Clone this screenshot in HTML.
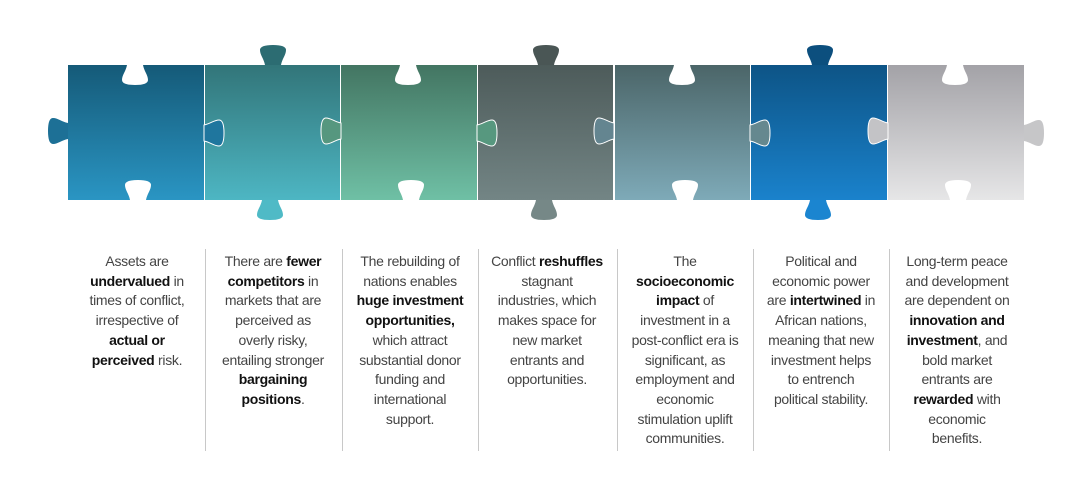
<!DOCTYPE html>
<html><head><meta charset="utf-8"><style>
body{margin:0;width:1083px;height:483px;background:#fff;position:relative;overflow:hidden;font-family:"Liberation Sans",sans-serif;}
svg{position:absolute;left:0;top:0}
.c{position:absolute;top:252px;width:134px;text-align:center;font-size:14px;line-height:19.7px;color:#444;letter-spacing:-0.3px;white-space:nowrap}
.c b{color:#111}
.d{position:absolute;top:249px;height:202px;width:1px;background:#c8c8c8}
</style></head><body>
<svg width="1083" height="483">
<defs>
<linearGradient id="g1" gradientUnits="userSpaceOnUse" x1="0" y1="65" x2="0" y2="200"><stop offset="0" stop-color="#155a78"/><stop offset="1" stop-color="#2a95c3"/></linearGradient>
<linearGradient id="g2" gradientUnits="userSpaceOnUse" x1="0" y1="65" x2="0" y2="200"><stop offset="0" stop-color="#327579"/><stop offset="1" stop-color="#4db6c3"/></linearGradient>
<linearGradient id="g3" gradientUnits="userSpaceOnUse" x1="0" y1="65" x2="0" y2="200"><stop offset="0" stop-color="#437562"/><stop offset="1" stop-color="#6fc0a5"/></linearGradient>
<linearGradient id="g4" gradientUnits="userSpaceOnUse" x1="0" y1="65" x2="0" y2="200"><stop offset="0" stop-color="#4d5b5a"/><stop offset="1" stop-color="#738585"/></linearGradient>
<linearGradient id="g5" gradientUnits="userSpaceOnUse" x1="0" y1="65" x2="0" y2="200"><stop offset="0" stop-color="#4b6568"/><stop offset="1" stop-color="#7eaab8"/></linearGradient>
<linearGradient id="g6" gradientUnits="userSpaceOnUse" x1="0" y1="65" x2="0" y2="200"><stop offset="0" stop-color="#0d5486"/><stop offset="1" stop-color="#1a82cc"/></linearGradient>
<linearGradient id="g7" gradientUnits="userSpaceOnUse" x1="0" y1="65" x2="0" y2="200"><stop offset="0" stop-color="#a3a2a7"/><stop offset="1" stop-color="#e6e6e7"/></linearGradient>
<path id="tab" d="M-8 0 C-9 -6 -13 -10 -13 -15 Q-13 -20 0 -20 Q13 -20 13 -15 C13 -10 9 -6 8 0 Z"/>
</defs>
<rect x="68" y="65" width="136" height="135" fill="url(#g1)"/>
<rect x="205" y="65" width="135" height="135" fill="url(#g2)"/>
<rect x="341" y="65" width="136" height="135" fill="url(#g3)"/>
<rect x="478" y="65" width="135" height="135" fill="url(#g4)"/>
<rect x="615" y="65" width="135" height="135" fill="url(#g5)"/>
<rect x="751" y="65" width="136" height="135" fill="url(#g6)"/>
<rect x="888" y="65" width="136" height="135" fill="url(#g7)"/>
<use href="#tab" transform="translate(273,65)" fill="#2c6c72"/>
<use href="#tab" transform="translate(270,200) rotate(180)" fill="#4fbac6"/>
<use href="#tab" transform="translate(546,65)" fill="#4a5655"/>
<use href="#tab" transform="translate(544,200) rotate(180)" fill="#768887"/>
<use href="#tab" transform="translate(820,65)" fill="#0c4f7e"/>
<use href="#tab" transform="translate(818,200) rotate(180)" fill="#1b85d0"/>
<g fill="#fff">
<use href="#tab" transform="translate(135,65) rotate(180)"/>
<use href="#tab" transform="translate(138,200)"/>
<use href="#tab" transform="translate(408,65) rotate(180)"/>
<use href="#tab" transform="translate(411,200)"/>
<use href="#tab" transform="translate(682,65) rotate(180)"/>
<use href="#tab" transform="translate(685,200)"/>
<use href="#tab" transform="translate(955,65) rotate(180)"/>
<use href="#tab" transform="translate(958,200)"/>
</g>
<use href="#tab" transform="translate(68,131) rotate(-90)" fill="#1d7096"/>
<use href="#tab" transform="translate(204,133) rotate(90)" fill="#1f769e" stroke="#fff" stroke-width="1"/>
<use href="#tab" transform="translate(341,131) rotate(-90)" fill="#56977f" stroke="#fff" stroke-width="1"/>
<use href="#tab" transform="translate(477,133) rotate(90)" fill="#57987f" stroke="#fff" stroke-width="1"/>
<use href="#tab" transform="translate(614,131) rotate(-90)" fill="#648590" stroke="#fff" stroke-width="1"/>
<use href="#tab" transform="translate(750,133) rotate(90)" fill="#65888f" stroke="#fff" stroke-width="1"/>
<use href="#tab" transform="translate(888,131) rotate(-90)" fill="#c3c3c6" stroke="#fff" stroke-width="1"/>
<use href="#tab" transform="translate(1024,133) rotate(90)" fill="#c6c6c8"/>
</svg>
<div class="d" style="left:205px"></div>
<div class="d" style="left:342px"></div>
<div class="d" style="left:478px"></div>
<div class="d" style="left:617px"></div>
<div class="d" style="left:753px"></div>
<div class="d" style="left:889px"></div>
<div class="c" style="left:70px">Assets are<br><b>undervalued</b> in<br>times of conflict,<br>irrespective of<br><b>actual or</b><br><b>perceived</b> risk.</div>
<div class="c" style="left:206px">There are <b>fewer</b><br><b>competitors</b> in<br>markets that are<br>perceived as<br>overly risky,<br>entailing stronger<br><b>bargaining</b><br><b>positions</b>.</div>
<div class="c" style="left:343px">The rebuilding of<br>nations enables<br><b>huge investment</b><br><b>opportunities,</b><br>which attract<br>substantial donor<br>funding and<br>international<br>support.</div>
<div class="c" style="left:480px">Conflict <b>reshuffles</b><br>stagnant<br>industries, which<br>makes space for<br>new market<br>entrants and<br>opportunities.</div>
<div class="c" style="left:618px">The<br><b>socioeconomic</b><br><b>impact</b> of<br>investment in a<br>post-conflict era is<br>significant, as<br>employment and<br>economic<br>stimulation uplift<br>communities.</div>
<div class="c" style="left:754px">Political and<br>economic power<br>are <b>intertwined</b> in<br>African nations,<br>meaning that new<br>investment helps<br>to entrench<br>political stability.</div>
<div class="c" style="left:890px">Long-term peace<br>and development<br>are dependent on<br><b>innovation and</b><br><b>investment</b>, and<br>bold market<br>entrants are<br><b>rewarded</b> with<br>economic<br>benefits.</div>
</body></html>
